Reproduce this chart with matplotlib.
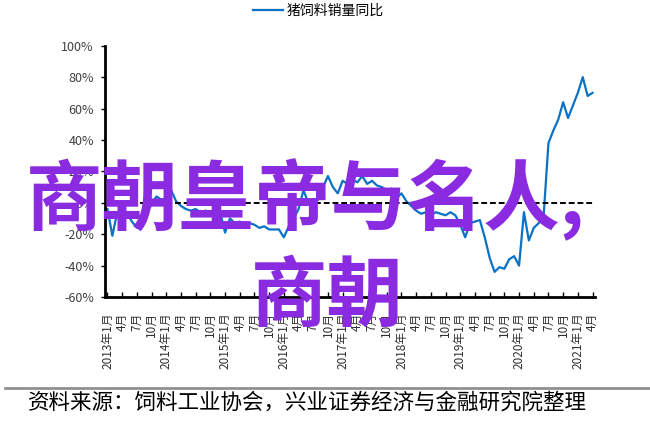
import numpy as np
import matplotlib
matplotlib.use("Agg")
import matplotlib.pyplot as plt

plt.rcParams['font.family'] = ['Noto Sans CJK SC', 'DejaVu Sans']

# monthly yoy of pig feed sales, 2013-01 .. 2021-04 (percent)
yoy_2013 = [-4, -21, -6, -4, -7, -12, -16, -13, -7, -1, 4, 2]
yoy_2014 = [3, 8, 1, -2, -4, -5, -4, -6, -5, -6, -8, -6]
yoy_2015 = [-19, -10, -13, -12, -15, -13, -14, -16, -15, -17, -17, -17]
yoy_2016 = [-22, -15, -10, -4, 8, 0, -1, 2, 10, 17, 10, 6]
yoy_2017 = [14, 12, 15, 13, 17, 12, 14, 11, 10, 8, 9, 3]
yoy_2018 = [6, 1, -2, -5, -7, -6, -8, -6, -7, -8, -6, -8]
yoy_2019 = [-14, -22, -13, -12, -11, -22, -35, -44, -41, -42, -36, -34]
yoy_2020 = [-40, -6, -24, -16, -13, -9, 38, 46, 53, 64, 54, 62]
yoy_2021 = [70, 80, 68, 70]
yoy = yoy_2013 + yoy_2014 + yoy_2015 + yoy_2016 + yoy_2017 + yoy_2018 + yoy_2019 + yoy_2020 + yoy_2021

years = list(range(2013, 2022))
months = [1, 4, 7, 10]
tick_labels = []
for y in years:
    for m in months:
        if y == 2021 and m > 4:
            break
        if m == 1:
            tick_labels.append('%d年%d月' % (y, m))
        else:
            tick_labels.append('%d月' % m)

y_ticks = [-60, -40, -20, 0, 20, 40, 60, 80, 100]

fig = plt.figure(figsize=(6.5, 4.4), dpi=100)
ax = fig.add_axes([105/650, 1 - 297/440, 490/650, 251.3/440])

x = np.arange(len(yoy))
ax.plot(x, yoy, color='#0a72c4', lw=1.6, label='猪饲料销量同比')
ax.axhline(0, color='black', lw=1.4, ls=(0, (3, 1.5)))

ax.set_xlim(-0.5, len(yoy) - 0.5)
ax.set_ylim(-60, 100)
ax.set_yticks(y_ticks)
ax.set_yticklabels(['%d%%' % v for v in y_ticks], fontsize=9, color='#404040')

ax.set_xticks(np.arange(0, len(yoy), 3))
ax.set_xticklabels(tick_labels, rotation=90, fontsize=8.5, color='#303030')
ax.tick_params(axis='x', direction='in', length=3.5, width=1, color='black', pad=11)
ax.tick_params(axis='y', direction='out', length=3, width=1, color='black', pad=5)

for s in ['top', 'right']:
    ax.spines[s].set_visible(False)
ax.spines['left'].set_linewidth(2)
ax.spines['bottom'].set_linewidth(2)

ax.legend(loc='lower center', bbox_to_anchor=(0.435, 1.06), frameon=False,
          fontsize=10, handlelength=2.2, handletextpad=0.2)

# footer
fig.add_artist(plt.Line2D([5/650, 1], [1 - 388/440] * 2, color='#909090', lw=2))
fig.text(28/650, 1 - 403/440, '资料来源：饲料工业协会，兴业证券经济与金融研究院整理',
         fontsize=15.5, va='center', ha='left', color='black')

# overlay caption
fig.text(0.47, 1 - 200/440, '商朝皇帝与名人,', fontsize=55, fontweight='bold',
         color='#8a2be2', ha='center', va='center')
fig.text(327/650, 1 - 297/440, '商朝', fontsize=55, fontweight='bold',
         color='#8a2be2', ha='center', va='center')

fig.savefig('out.png', dpi=100)
